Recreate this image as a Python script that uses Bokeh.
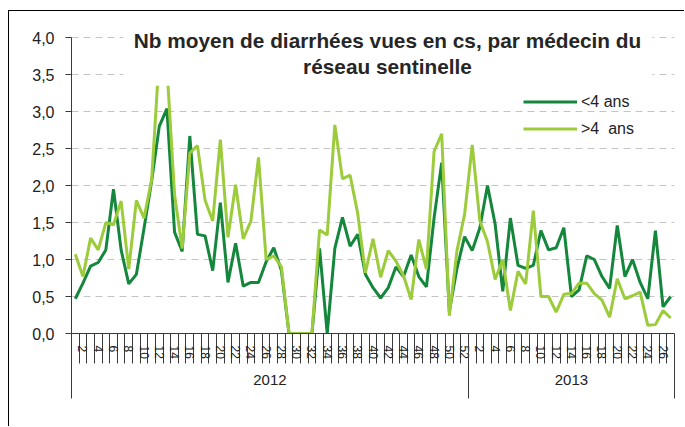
from bokeh.plotting import figure
from bokeh.models import (Range1d, LinearAxis, FixedTicker, CustomJSTickFormatter,
                          Legend, LegendItem, Label, BoxAnnotation, ColumnDataSource)
from bokeh.embed import file_html
from bokeh.resources import INLINE

# ---------------- data ----------------
years = ["2012", "2013"]
weeks_2012 = list(range(1, 53))
weeks_2013 = list(range(1, 28))

under4_2012 = [0.47, 0.68, 0.91, 0.96, 1.13, 1.95, 1.13, 0.67, 0.80, 1.42,
               2.06, 2.80, 3.04, 1.37, 1.11, 2.67, 1.34, 1.32, 0.85, 1.77,
               0.69, 1.22, 0.64, 0.69, 0.69, 0.97, 1.16, 0.85, 0.0, 0.0,
               0.0, 0.0, 1.15, 0.0, 1.15, 1.57, 1.18, 1.34, 0.80, 0.62,
               0.48, 0.62, 0.90, 0.77, 1.06, 0.77, 0.63, 1.56, 2.31, 0.30,
               0.88, 1.31]
under4_2013 = [1.12, 1.43, 2.00, 1.48, 0.57, 1.56, 0.92, 0.88, 0.92, 1.39,
               1.13, 1.16, 1.43, 0.50, 0.59, 1.05, 1.00, 0.77, 0.61, 1.46,
               0.77, 1.00, 0.69, 0.47, 1.39, 0.36, 0.50]

over4_2012 = [1.07, 0.77, 1.29, 1.13, 1.50, 1.47, 1.79, 0.87, 1.80, 1.56,
              2.08, 3.75, 3.60, 1.88, 1.15, 2.44, 2.54, 1.80, 1.52, 2.62,
              1.30, 2.01, 1.28, 1.52, 2.38, 1.00, 1.05, 0.90, 0.0, 0.0,
              0.0, 0.0, 1.40, 1.33, 2.82, 2.09, 2.14, 1.62, 0.82, 1.28,
              0.76, 1.12, 0.98, 0.78, 0.46, 1.27, 0.87, 2.46, 2.70, 0.24,
              1.12, 1.61]
over4_2013 = [2.55, 1.52, 1.24, 0.73, 1.00, 0.31, 0.84, 0.67, 1.66, 0.50,
              0.50, 0.29, 0.53, 0.54, 0.68, 0.68, 0.54, 0.45, 0.22, 0.74,
              0.47, 0.51, 0.56, 0.11, 0.12, 0.31, 0.21]

series_names = ["<4 ans", ">4  ans"]
title_lines = ["Nb moyen de diarrhées vues en cs, par médecin du", "réseau sentinelle"]
y_ticks = [0.0, 0.5, 1.0, 1.5, 2.0, 2.5, 3.0, 3.5, 4.0]

# ---------------- derived ----------------
week_labels = [str(w) for w in weeks_2012] + [str(w) for w in weeks_2013]
week_nums = weeks_2012 + weeks_2013
n = len(week_labels)
xs = list(range(n))
src = ColumnDataSource(dict(x=xs, u4=under4_2012 + under4_2013, o4=over4_2012 + over4_2013))

label_ticks = [i for i, w in enumerate(week_nums) if w % 2 == 0]
boundaries = [i - 0.5 for i in range(n + 1)]
year_bounds = [-0.5, len(weeks_2012) - 0.5, n - 0.5]
year_centers = [(year_bounds[k] + year_bounds[k + 1]) / 2 for k in range(2)]

DARK = "#14873d"
LIGHT = "#9ccb3b"
AX = "#3a3a3a"
FONT = "Liberation Sans"

p = figure(width=676, height=416, x_range=Range1d(-0.5, n - 0.5), y_range=Range1d(0, 4.15),
           output_backend="svg", toolbar_location=None, x_axis_location=None,
           min_border_left=62, min_border_right=11, min_border_top=15, min_border_bottom=94)
p.outline_line_color = None
p.xgrid.visible = False
p.styles = {"margin-left": "8px", "margin-top": "10px",
            "border-left": "1px solid #000", "border-top": "1px solid #000"}

yt = FixedTicker(ticks=y_ticks)
p.yaxis.ticker = yt
p.yaxis.bounds = (y_ticks[0], y_ticks[-1])
p.yaxis.formatter = CustomJSTickFormatter(code="return tick.toFixed(1).replace('.', ',');")
p.yaxis.major_tick_out = 6
p.yaxis.major_tick_in = 0
p.yaxis.minor_tick_line_color = None
p.yaxis.axis_line_color = AX
p.yaxis.major_tick_line_color = AX
p.yaxis.major_label_standoff = 11
p.yaxis.major_label_text_font = FONT
p.yaxis.major_label_text_font_size = "16px"
p.yaxis.major_label_text_color = "#222222"
p.ygrid.ticker = yt
p.ygrid.grid_line_color = "#c4c4c4"
p.ygrid.grid_line_dash = "7 5"

week_axis = LinearAxis(
    ticker=FixedTicker(ticks=label_ticks, minor_ticks=boundaries),
    formatter=CustomJSTickFormatter(args=dict(labels=week_labels),
                                    code="const i = Math.round(tick); return (i >= 0 && i < labels.length) ? labels[i] : '';"),
    major_tick_out=0, major_tick_in=0, minor_tick_out=30, minor_tick_in=0,
    axis_line_color=AX, minor_tick_line_color=AX,
    major_label_orientation="vertical", major_label_standoff=-18,
    major_label_text_font=FONT, major_label_text_font_size="12px",
    major_label_text_color="#222222")
p.add_layout(week_axis, "below")

year_axis = LinearAxis(
    ticker=FixedTicker(ticks=year_centers, minor_ticks=year_bounds),
    formatter=CustomJSTickFormatter(args=dict(labels=years, pos=year_centers),
                                    code="for (let k = 0; k < pos.length; k++) { if (Math.abs(tick - pos[k]) < 0.01) return labels[k]; } return '';"),
    major_tick_out=0, major_tick_in=0, minor_tick_in=20, minor_tick_out=37,
    axis_line_color=None, minor_tick_line_color=AX,
    major_label_standoff=-24, major_label_text_font=FONT,
    major_label_text_font_size="15px", major_label_text_color="#222222")
p.add_layout(year_axis, "below")

r1 = p.line("x", "u4", source=src, line_color=DARK, line_width=3)
r2 = p.line("x", "o4", source=src, line_color=LIGHT, line_width=3)

# white title background (title sits inside the plot area)
p.add_layout(BoxAnnotation(left=6.3, right=75.6, bottom=3.35, top=4.3,
                           fill_color="white", fill_alpha=1.0, line_color=None))
p.add_layout(Label(x=40.9, y=3.96, text=title_lines[0], text_align="center",
                   text_baseline="middle", text_font=FONT, text_font_style="bold",
                   text_font_size="20.8px", text_color="#262626"))
p.add_layout(Label(x=40.9, y=3.61, text=title_lines[1], text_align="center",
                   text_baseline="middle", text_font=FONT, text_font_style="bold",
                   text_font_size="20.8px", text_color="#262626"))

legend = Legend(items=[LegendItem(label=series_names[0], renderers=[r1]),
                       LegendItem(label=series_names[1], renderers=[r2])],
                location=(452, 191), border_line_color=None, background_fill_alpha=0,
                padding=0, spacing=0, margin=0, glyph_width=54, glyph_height=27,
                label_height=27, label_standoff=4, label_text_font=FONT,
                label_text_font_size="16px", label_text_color="#222222")
p.add_layout(legend)

open("out.html", "w").write(file_html(p, INLINE))
